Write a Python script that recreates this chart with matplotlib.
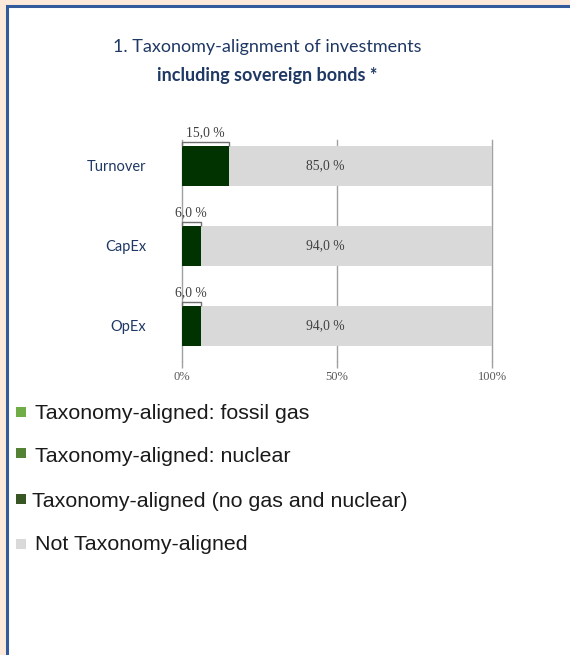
import matplotlib
matplotlib.use("Agg")
import matplotlib.pyplot as plt
from matplotlib.patches import Rectangle

# ---- data ----
categories = ["Turnover", "CapEx", "OpEx"]
fossil_gas = [0.0, 0.0, 0.0]
nuclear = [0.0, 0.0, 0.0]
aligned_other = [15.0, 6.0, 6.0]
not_aligned = [85.0, 94.0, 94.0]
x_ticks = [0, 50, 100]
x_tick_labels = ["0%", "50%", "100%"]
legend_labels = ["Taxonomy-aligned: fossil gas",
                 "Taxonomy-aligned: nuclear",
                 "Taxonomy-aligned (no gas and nuclear)",
                 "Not Taxonomy-aligned"]
legend_colors = ["#70AD47", "#548235", "#375623", "#D9D9D9"]
title_line1 = "1. Taxonomy-alignment of investments"
title_line2 = "including sovereign bonds *"

W, H = 570, 655
fig = plt.figure(figsize=(W / 100, H / 100), dpi=100)
fig.patch.set_facecolor("#FDE9D9")

def fx(px):
    return px / W

def fy(py):
    return 1 - py / H

# white panel with blue border
panel = Rectangle((fx(7.2), fy(H + 20)), fx(W + 20), (H + 20 - 5.7) / H,
                  transform=fig.transFigure, facecolor="white",
                  edgecolor="#335A9A", linewidth=2.2, zorder=-5)
fig.patches.append(panel)

navy = "#1F3864"
fig.text(fx(267), fy(52), title_line1, ha="center", va="baseline",
         fontsize=13, family="Lato", color=navy)
fig.text(fx(267), fy(81), title_line2, ha="center", va="baseline",
         fontsize=13, family="Lato", fontweight="bold", color=navy)

ax = fig.add_axes([fx(182), fy(361), fx(492) - fx(182), (361 - 140) / H])
ax.set_facecolor("none")
ax.set_zorder(2)
for s in ax.spines.values():
    s.set_visible(False)

y = list(range(len(categories)))
bh = 0.49
left = [0.0] * len(categories)
series = [fossil_gas, nuclear, aligned_other, not_aligned]
for vals, col in zip(series, ["#70AD47", "#548235", "#003300", "#D9D9D9"]):
    ax.barh(y, vals, left=left, height=bh, color=col, edgecolor="none", zorder=3)
    left = [l + v for l, v in zip(left, vals)]

ax.set_xlim(0, 100)
ax.set_ylim(2.4375, -0.325)
ax.set_xticks(x_ticks)
ax.set_xticklabels(x_tick_labels, family="Liberation Serif", fontsize=9,
                   color="#595959")
ax.tick_params(axis="x", length=5, width=1, color="#A0A0A0", pad=2)
ax.xaxis.grid(True, color="#A0A0A0", linewidth=1, zorder=1)
for gl in ax.get_xgridlines():
    gl.set_clip_on(False)
ax.set_axisbelow(True)
ax.set_yticks(y)
ax.set_yticklabels(categories, family="Lato", fontsize=10.5, color=navy)
ax.tick_params(axis="y", length=0, pad=26)

# labels
for i, (a, n) in enumerate(zip(aligned_other, not_aligned)):
    top = i - bh / 2
    br = top - 0.06
    ax.plot([0, 0, a, a], [top, br, br, top], color="#707070", lw=1,
            zorder=4, solid_capstyle="butt", clip_on=False)
    ax.annotate(f"{a:.1f} %".replace(".", ","), (a / 2, br),
                xytext=(0, 1.5), textcoords="offset points",
                ha="center", va="bottom", family="Liberation Serif",
                fontsize=9.8, color="#404040", zorder=5)
    ax.text(0.461, i, f"{n:.1f} %".replace(".", ","),
            transform=ax.get_yaxis_transform(), ha="center", va="center",
            family="Liberation Serif", fontsize=9.8, color="#404040", zorder=5)

# legend
box_tops = [407, 448, 494, 539]
baselines = [419, 462, 507, 550]
text_x = [35, 35, 32, 35]
for lab, col, bt, bl, tx in zip(legend_labels, legend_colors, box_tops,
                                baselines, text_x):
    fig.patches.append(Rectangle((fx(16), fy(bt + 10)), fx(10), 10 / H,
                                 transform=fig.transFigure, facecolor=col,
                                 edgecolor="none", zorder=2))
    fig.text(fx(tx), fy(bl), lab, ha="left", va="baseline",
             family="Liberation Sans", fontsize=15.4, color="#1A1A1A")

fig.savefig("out.png", dpi=100, facecolor=fig.get_facecolor())
